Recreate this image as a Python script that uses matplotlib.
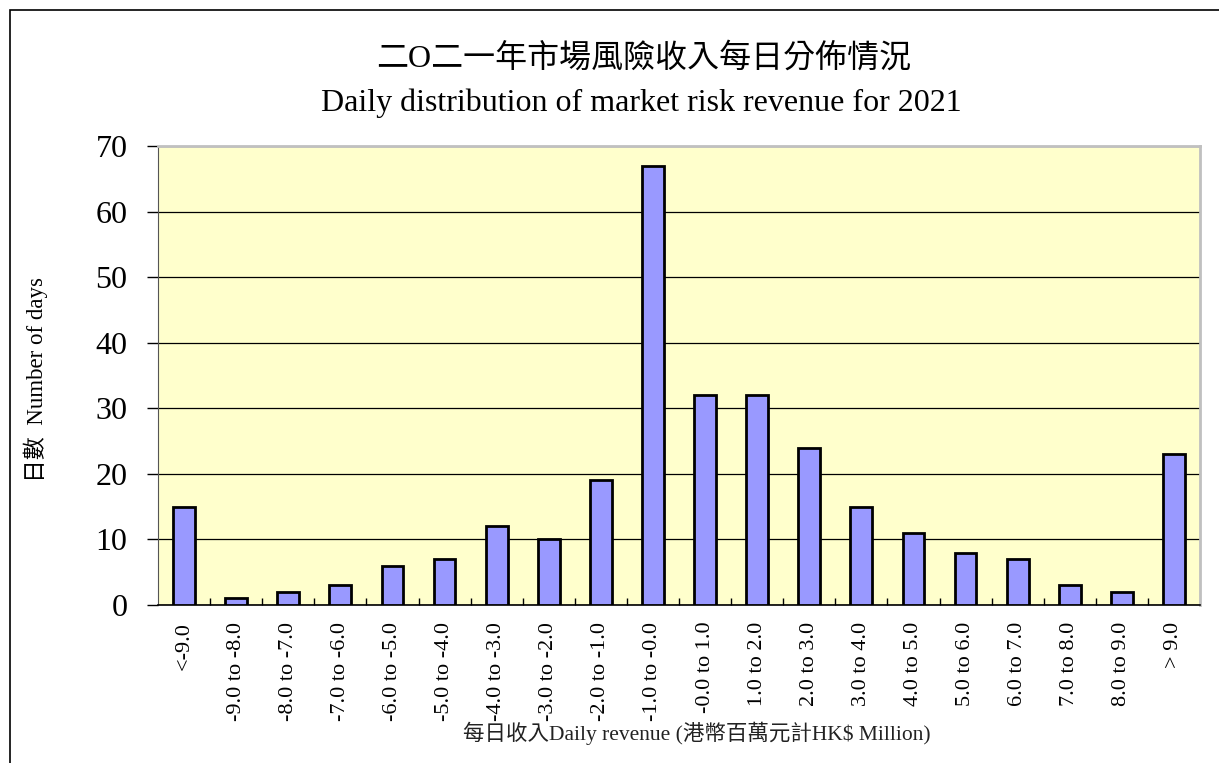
import numpy as np
import matplotlib
matplotlib.use("Agg")
import matplotlib.pyplot as plt
from matplotlib.patches import Rectangle

plt.rcParams['font.family'] = ['Liberation Serif', 'Noto Sans CJK TC']

categories = ["<-9.0", "-9.0 to -8.0", "-8.0 to -7.0", "-7.0 to -6.0", "-6.0 to -5.0",
              "-5.0 to -4.0", "-4.0 to -3.0", "-3.0 to -2.0", "-2.0 to -1.0", "-1.0 to -0.0",
              "-0.0 to 1.0", "1.0 to 2.0", "2.0 to 3.0", "3.0 to 4.0", "4.0 to 5.0",
              "5.0 to 6.0", "6.0 to 7.0", "7.0 to 8.0", "8.0 to 9.0", "> 9.0"]
days = [15, 1, 2, 3, 6, 7, 12, 10, 19, 67, 32, 32, 24, 15, 11, 8, 7, 3, 2, 23]
yticks = [0, 10, 20, 30, 40, 50, 60, 70]

title_zh = "二O二一年市場風險收入每日分佈情況"
title_en = "Daily distribution of market risk revenue for 2021"
xlabel = "每日收入Daily revenue (港幣百萬元計HK$ Million)"
ylabel = "日數  Number of days"

W, H = 1219, 763
fig = plt.figure(figsize=(W / 100, H / 100), dpi=100)

# outer frame (only left/top visible in the original)
fig.patches.append(Rectangle((10 / W, -0.1), 1.2, 1 - 10 / H + 0.1,
                             transform=fig.transFigure, fill=False,
                             edgecolor="black", linewidth=1.2))

ax = fig.add_axes([158 / W, 1 - 605 / H, (1200 - 158) / W, (605 - 146) / H])
ax.set_facecolor("#FFFFCC")

x = np.arange(len(categories))
ax.bar(x, days, width=0.42, color="#9999FF", edgecolor="black", linewidth=2, zorder=3)

ax.set_xlim(-0.5, len(categories) - 0.5)
ax.set_ylim(0, 70)
ax.set_yticks(yticks)
ax.yaxis.grid(True, color="black", linewidth=0.9, zorder=1)
ax.tick_params(axis="y", labelsize=23, length=8, width=1, direction="out", pad=14)

ax.set_xticks(x)
ax.set_xticklabels(categories, rotation=90, fontsize=16)
ax.tick_params(axis="x", length=0, pad=12)
ax.set_xticks(np.arange(0.5, len(categories) - 0.5, 1), minor=True)
ax.tick_params(axis="x", which="minor", direction="in", length=5, width=1)

for side in ["top", "right"]:
    ax.spines[side].set_color("#C0C0C0")
    ax.spines[side].set_linewidth(2)
ax.spines["left"].set_color("#555555")
ax.spines["bottom"].set_color("black")
ax.spines["bottom"].set_linewidth(1.2)

fig.text(644 / W, 1 - 58 / H, title_zh, ha="center", va="center", fontsize=23,
         fontweight="light")
fig.text(641 / W, 1 - 103 / H, title_en, ha="center", va="center", fontsize=23)
fig.text(697 / W, 1 - 733 / H, xlabel, ha="center", va="center", fontsize=15.5,
         color="#222222")
fig.text(36 / W, 1 - 380 / H, ylabel, ha="center", va="center", rotation=90, fontsize=16.5)

fig.savefig("out.png", dpi=100)
